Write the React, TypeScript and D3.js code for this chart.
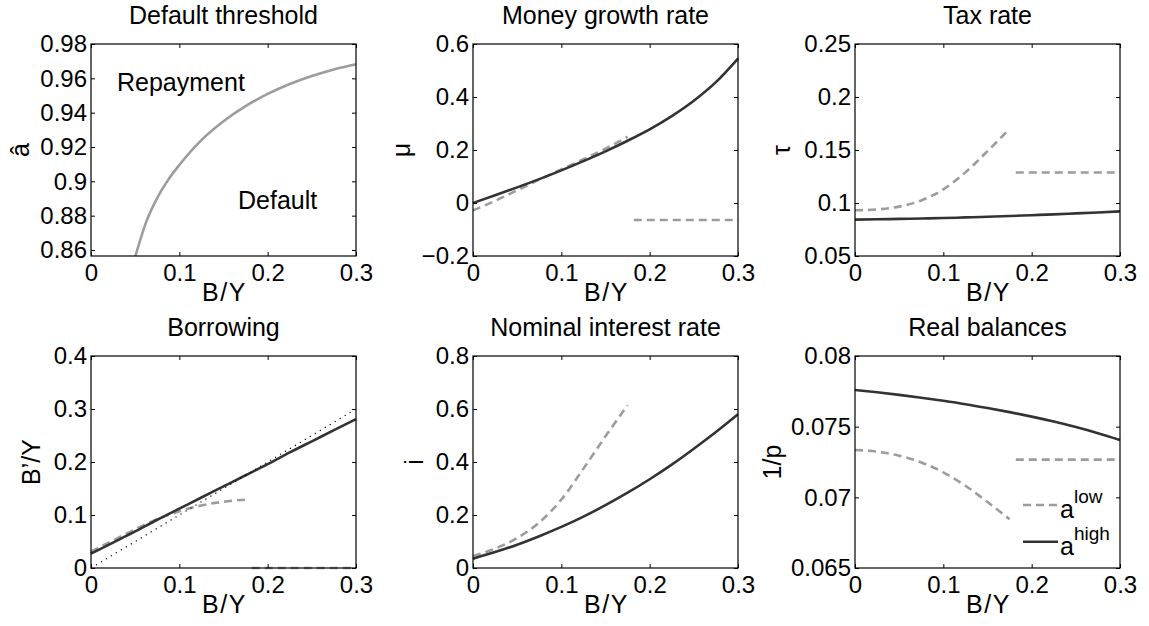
import { useEffect, useRef } from 'react';
import * as d3 from 'd3';

// shared x grid (B/Y)
const xTicks = [0, 0.1, 0.2, 0.3];
const gridHigh = [0, 0.025, 0.05, 0.075, 0.1, 0.125, 0.15, 0.175, 0.2, 0.225, 0.25, 0.275, 0.3];
const gridLow = [0, 0.025, 0.05, 0.075, 0.1, 0.125, 0.15, 0.175];
const gridLowDefault = [0.182, 0.3];

// Default threshold
const thresholdX = [0.0503, 0.0625, 0.075, 0.0875, 0.1, 0.125, 0.15, 0.175, 0.2, 0.225, 0.25, 0.275, 0.3];
const thresholdY = [0.8565, 0.8764, 0.8904, 0.901, 0.9095, 0.924, 0.935, 0.9438, 0.9509, 0.9567, 0.9614, 0.9652, 0.9682];
const thresholdTicks = [0.86, 0.88, 0.9, 0.92, 0.94, 0.96, 0.98];

// Money growth rate
const muHigh = [0, 0.029, 0.059, 0.09, 0.123, 0.158, 0.195, 0.235, 0.278, 0.328, 0.386, 0.456, 0.545];
const muLow = [-0.028, 0.008, 0.048, 0.088, 0.127, 0.165, 0.205, 0.25];
const muLowDefault = [-0.064, -0.064];
const muTicks = [-0.2, 0, 0.2, 0.4, 0.6];

// Tax rate
const tauHigh = [0.0843, 0.0846, 0.085, 0.0854, 0.0858, 0.0864, 0.087, 0.0877, 0.0885, 0.0893, 0.0902, 0.0911, 0.0921];
const tauLow = [0.0931, 0.0939, 0.0966, 0.1024, 0.1129, 0.1289, 0.1489, 0.1699];
const tauLowDefault = [0.1288, 0.1288];
const tauTicks = [0.05, 0.1, 0.15, 0.2, 0.25];

// Borrowing
const borrowHigh = [0.027, 0.048, 0.069, 0.091, 0.112, 0.133, 0.154, 0.175, 0.196, 0.218, 0.239, 0.26, 0.281];
const borrowLow = [0.031, 0.052, 0.073, 0.092, 0.107, 0.118, 0.125, 0.129];
const borrowLowDefault = [0, 0];
const diagonalX = [0, 0.3];
const diagonalY = [0, 0.3];
const borrowTicks = [0, 0.1, 0.2, 0.3, 0.4];

// Nominal interest rate
const rateHigh = [0.035, 0.06, 0.088, 0.12, 0.155, 0.194, 0.237, 0.284, 0.335, 0.39, 0.45, 0.513, 0.58];
const rateLow = [0.045, 0.073, 0.113, 0.172, 0.258, 0.375, 0.497, 0.614];
const rateTicks = [0, 0.2, 0.4, 0.6, 0.8];

// Real balances
const realHigh = [0.0776, 0.07743, 0.07725, 0.07705, 0.07683, 0.07659, 0.07632, 0.07603, 0.07571, 0.07536, 0.07497, 0.07454, 0.07406];
const realLow = [0.07335, 0.07323, 0.07295, 0.07247, 0.07177, 0.07082, 0.06967, 0.06845];
const realLowDefault = [0.07267, 0.07267];
const realTicks = [0.065, 0.07, 0.075, 0.08];

// legend
const legendLabels = ['low', 'high'];
const legendLevels = [0.06946, 0.06686];

const DARK = '#333333';
const GRAY = '#9c9c9c';
const DASH = '8,5';
const FONT = '"Liberation Sans", Arial, Helvetica, sans-serif';

type Series = { x: number[]; y: number[]; color: string; dash?: string; width?: number };
type Panel = {
  title: string;
  ylabel: string;
  yDomain: [number, number];
  yTicks: number[];
  series: Series[];
  labelOffset: number;
};

const zip = (xs: number[], ys: number[]) => xs.map((x, i) => [x, ys[i]] as [number, number]);

const panels: Panel[] = [
  {
    title: 'Default threshold', ylabel: 'â', yDomain: [0.8565, 0.98], yTicks: thresholdTicks, labelOffset: -71,
    series: [{ x: thresholdX, y: thresholdY, color: GRAY }],
  },
  {
    title: 'Money growth rate', ylabel: 'μ', yDomain: [-0.2, 0.6], yTicks: muTicks, labelOffset: -72,
    series: [
      { x: gridLow, y: muLow, color: GRAY, dash: DASH },
      { x: gridLowDefault, y: muLowDefault, color: GRAY, dash: DASH },
      { x: gridHigh, y: muHigh, color: DARK },
    ],
  },
  {
    title: 'Tax rate', ylabel: 'τ', yDomain: [0.05, 0.25], yTicks: tauTicks, labelOffset: -74,
    series: [
      { x: gridLow, y: tauLow, color: GRAY, dash: DASH },
      { x: gridLowDefault, y: tauLowDefault, color: GRAY, dash: DASH },
      { x: gridHigh, y: tauHigh, color: DARK },
    ],
  },
  {
    title: 'Borrowing', ylabel: 'B’/Y', yDomain: [0, 0.4], yTicks: borrowTicks, labelOffset: -60,
    series: [
      { x: gridLow, y: borrowLow, color: GRAY, dash: DASH },
      { x: gridLowDefault, y: borrowLowDefault, color: GRAY, dash: DASH },
      { x: gridHigh, y: borrowHigh, color: DARK },
      { x: diagonalX, y: diagonalY, color: '#000', dash: '1.2,4.6', width: 1.2 },
    ],
  },
  {
    title: 'Nominal interest rate', ylabel: 'i', yDomain: [0, 0.8], yTicks: rateTicks, labelOffset: -59,
    series: [
      { x: gridLow, y: rateLow, color: GRAY, dash: DASH },
      { x: gridHigh, y: rateHigh, color: DARK },
    ],
  },
  {
    title: 'Real balances', ylabel: '1/p', yDomain: [0.065, 0.08], yTicks: realTicks, labelOffset: -83,
    series: [
      { x: gridLow, y: realLow, color: GRAY, dash: DASH },
      { x: gridLowDefault, y: realLowDefault, color: GRAY, dash: DASH },
      { x: gridHigh, y: realHigh, color: DARK },
    ],
  },
];

const App = () => {
  const chartRef = useRef<SVGSVGElement>(null);

  useEffect(() => {
    if (!chartRef.current) return;
    const root = d3.select(chartRef.current);
    root.selectAll('*').remove();

    const colLeft = [91, 473, 855];
    const rowTop = [44, 356];
    const boxW = 265;
    const boxH = 212;
    const fmt = d3.format('~g');

    panels.forEach((p, idx) => {
      const left = colLeft[idx % 3];
      const top = rowTop[Math.floor(idx / 3)];
      const g = root.append('g').attr('transform', `translate(${left},${top})`);

      const x = d3.scaleLinear().domain([0, 0.3]).range([0, boxW]);
      const y = d3.scaleLinear().domain(p.yDomain).range([boxH, 0]);

      // curves
      const line = d3.line<[number, number]>()
        .x(d => x(d[0]))
        .y(d => y(d[1]))
        .curve(d3.curveMonotoneX);
      p.series.forEach(s => {
        g.append('path')
          .datum(zip(s.x, s.y))
          .attr('d', line)
          .attr('fill', 'none')
          .attr('stroke', s.color)
          .attr('stroke-width', s.width ?? 2.6)
          .attr('stroke-dasharray', s.dash ?? null);
      });

      // axes with inward ticks on all four sides
      const styleAxis = (sel: d3.Selection<SVGGElement, unknown, null, undefined>) => {
        sel.select('.domain').remove();
        sel.selectAll('line').attr('stroke', '#000');
        sel.selectAll('text').style('font-family', FONT).style('font-size', '24px').attr('fill', '#000');
      };
      g.append('g').attr('transform', `translate(0,${boxH})`)
        .call(d3.axisBottom(x).tickValues(xTicks).tickSize(-4).tickPadding(8).tickFormat(d => fmt(+d)))
        .call(styleAxis);
      g.append('g')
        .call(d3.axisTop(x).tickValues(xTicks).tickSize(-4).tickFormat(() => ''))
        .call(styleAxis);
      g.append('g')
        .call(d3.axisLeft(y).tickValues(p.yTicks).tickSize(-4).tickPadding(4).tickFormat(d => fmt(+d)))
        .call(styleAxis);
      g.append('g').attr('transform', `translate(${boxW},0)`)
        .call(d3.axisRight(y).tickValues(p.yTicks).tickSize(-4).tickFormat(() => ''))
        .call(styleAxis);

      g.append('rect')
        .attr('x', 0).attr('y', 0).attr('width', boxW).attr('height', boxH)
        .attr('fill', 'none').attr('stroke', '#000').attr('stroke-width', 1.2);

      // title and labels
      g.append('text')
        .attr('x', boxW / 2).attr('y', -20)
        .attr('text-anchor', 'middle')
        .style('font-family', FONT).style('font-size', '25px')
        .text(p.title);
      g.append('text')
        .attr('x', boxW / 2 + 1).attr('y', boxH + 45)
        .attr('text-anchor', 'middle')
        .style('font-family', FONT).style('font-size', '25px')
        .style('letter-spacing', '1.5px')
        .text('B/Y');
      g.append('text')
        .attr('transform', `translate(${p.labelOffset},${boxH / 2}) rotate(-90)`)
        .attr('text-anchor', 'middle')
        .attr('dy', '0.35em')
        .style('font-family', FONT).style('font-size', '25px')
        .text(p.ylabel);

      if (idx === 0) {
        g.append('text').attr('x', 26).attr('y', 47)
          .style('font-family', FONT).style('font-size', '25px').text('Repayment');
        g.append('text').attr('x', 147).attr('y', 165)
          .style('font-family', FONT).style('font-size', '25px').text('Default');
      }

      if (idx === 5) {
        legendLabels.forEach((label, i) => {
          const ly = y(legendLevels[i]);
          g.append('line')
            .attr('x1', 168).attr('x2', 203).attr('y1', ly).attr('y2', ly)
            .attr('stroke', i === 0 ? GRAY : DARK).attr('stroke-width', 2.6)
            .attr('stroke-dasharray', i === 0 ? DASH : null);
          const t = g.append('text').attr('x', 205).attr('y', ly + 13)
            .style('font-family', FONT).style('font-size', '25px');
          t.append('tspan').text('a');
          t.append('tspan').attr('dy', -15).style('font-size', '19px').text(label);
        });
      }
    });
  }, []);

  return (
    <svg
      ref={chartRef}
      width={1149}
      height={626}
      style={{ position: 'absolute', left: 0, top: 0, background: '#fff' }}
    />
  );
};

export default App;
